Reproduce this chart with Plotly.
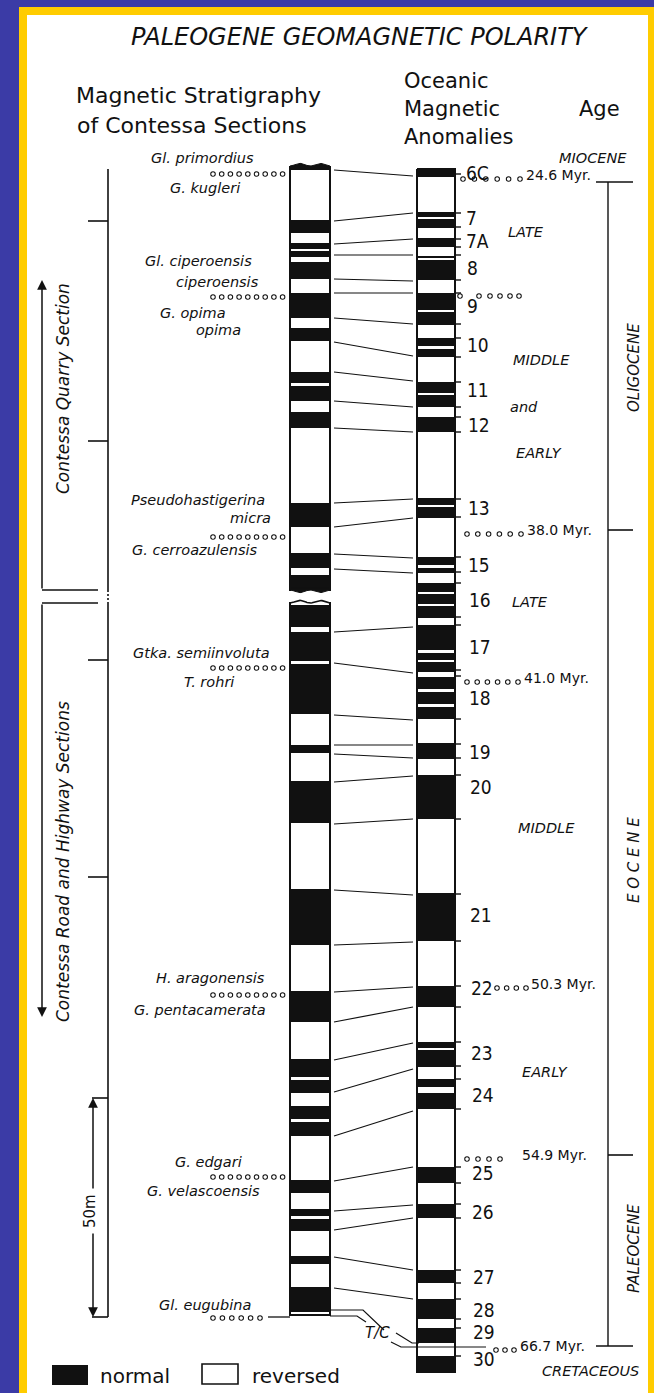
import numpy as np
import plotly.graph_objects as go

W, H = 654, 1393
INK = "#111111"
BLUE = "#3b3ba6"
YELLOW = "#ffcc00"
SANS = "DejaVu Sans"
COND = "DejaVu Sans Condensed, DejaVu Sans"

# ---------------- data (depth positions, downward) ----------------
contessa_normal_top = [220, 243, 251, 262, 293, 328, 372, 386, 412, 503, 553, 575,
                       605, 632, 664, 745, 781, 889, 991, 1059, 1080, 1106, 1122,
                       1180, 1209, 1219, 1256, 1287]
contessa_normal_base = [233, 249, 257, 279, 318, 341, 383, 401, 428, 527, 568, 590,
                        627, 661, 714, 753, 823, 945, 1022, 1077, 1093, 1119, 1136,
                        1193, 1216, 1231, 1264, 1312]

ocean_normal_top = [170, 212, 219, 238, 256, 260, 293, 312, 338, 349, 382, 395, 417,
                    498, 507, 557, 568, 583, 594, 606, 625, 653, 662, 677, 692, 707,
                    743, 775, 893, 986, 1042, 1050, 1079, 1093, 1167, 1204, 1270,
                    1299, 1328, 1356]
ocean_normal_base = [177, 217, 228, 247, 258, 280, 310, 325, 346, 357, 393, 407, 432,
                     505, 518, 565, 573, 592, 604, 618, 650, 660, 672, 689, 704, 719,
                     759, 819, 941, 1007, 1048, 1067, 1087, 1109, 1183, 1218, 1283,
                     1319, 1343, 1372]

tie_contessa = [170, 221, 244, 255, 279, 293, 318, 342, 372, 401, 428, 503, 527, 554,
                569, 632, 663, 715, 745, 754, 782, 824, 890, 945, 992, 1022, 1060,
                1092, 1136, 1181, 1211, 1230, 1257, 1288]
tie_ocean = [176, 213, 239, 255, 281, 293, 324, 356, 381, 407, 432, 499, 518, 558,
             573, 627, 673, 720, 745, 758, 776, 819, 895, 942, 987, 1007, 1043, 1069,
             1111, 1167, 1205, 1218, 1270, 1299]

anomaly_names = ["6C", "7", "7A", "8", "9", "10", "11", "12", "13", "15", "16", "17",
                 "18", "19", "20", "21", "22", "23", "24", "25", "26", "27", "28", "29", "30"]
anomaly_label_y = [173, 218, 241, 268, 306, 345, 390, 425, 508, 565, 600, 647, 698,
                   752, 787, 915, 988, 1053, 1095, 1173, 1212, 1277, 1310, 1332, 1359]
anomaly_tick_y = [174, 213, 227, 239, 247, 255, 280, 293, 324, 338, 357, 382, 407, 417,
                  432, 499, 517, 557, 572, 583, 617, 625, 670, 676, 719, 744, 758, 775,
                  819, 894, 941, 986, 1007, 1042, 1066, 1079, 1109, 1167, 1183, 1204,
                  1218, 1270, 1283, 1299, 1319, 1328, 1356]

age_names = ["24.6 Myr.", "38.0 Myr.", "41.0 Myr.", "50.3 Myr.", "54.9 Myr.", "66.7 Myr."]
age_y = [176, 531, 679, 985, 1156, 1347]
age_text_x = [524, 525, 522, 529, 520, 518]
age_dots_from = [463, 467, 467, 497, 467, 496]
age_dots_to = [520, 521, 518, 526, 500, 514]

epoch_boundary_y = [182, 530, 1155, 1346]
epoch_tick_both = [True, False, False, True]
epoch_names = ["OLIGOCENE", "E O C E N E", "PALEOCENE"]
epoch_label_y = [368, 860, 1249]
subepoch_names = ["MIOCENE", "LATE", "MIDDLE", "and", "EARLY", "LATE", "MIDDLE",
                  "EARLY", "CRETACEOUS"]
subepoch_x = [593, 526, 541, 524, 539, 530, 546, 545, 590]
subepoch_y = [158, 232, 360, 407, 453, 602, 828, 1072, 1371]

biozone_names = ["Gl. primordius", "G. kugleri", "Gl. ciperoensis", "ciperoensis",
                 "G. opima", "opima", "Pseudohastigerina", "micra", "G. cerroazulensis",
                 "Gtka. semiinvoluta", "T. rohri", "H. aragonensis", "G. pentacamerata",
                 "G. edgari", "G. velascoensis", "Gl. eugubina"]
biozone_x = [202, 205, 198, 217, 193, 218, 198, 250, 195, 201, 209, 210, 200, 208, 203, 205]
biozone_y = [158, 188, 261, 282, 313, 330, 500, 518, 550, 653, 682, 978, 1010, 1162,
             1191, 1305]
biozone_boundary_y = [174, 297, 537, 668, 995, 1177, 1318]
biozone_dot_count = [9, 9, 9, 9, 9, 9, 6]

section_names = ["Contessa Quarry Section", "Contessa Road and Highway Sections"]
section_top = [169, 603]
section_base = [590, 1317]
section_label_y = [389, 862]
section_ticks = [221, 441, 660, 877]
scale_top, scale_base = 1098, 1317   # 50 m

# ---------------- layout constants ----------------
L0, L1 = 290, 330      # Contessa column
R0, R1 = 417, 455      # oceanic column
SEC_X = 108            # section scale line

fig = go.Figure()


def bars(tops, bases, x0, x1):
    return go.Bar(x=[(x0 + x1) / 2] * len(tops),
                  y=[b - t for t, b in zip(tops, bases)],
                  base=tops, width=x1 - x0,
                  marker=dict(color=INK, line=dict(width=0)),
                  hoverinfo="skip", showlegend=False)


fig.add_trace(bars(contessa_normal_top, contessa_normal_base, L0, L1))
fig.add_trace(bars(ocean_normal_top, ocean_normal_base, R0, R1))


def line(xs, ys, w=1.3, dash=None):
    fig.add_trace(go.Scatter(x=xs, y=ys, mode="lines",
                             line=dict(color=INK, width=w, dash=dash),
                             hoverinfo="skip", showlegend=False))


def poly(xs, ys):
    fig.add_trace(go.Scatter(x=xs, y=ys, mode="lines", fill="toself",
                             fillcolor=INK, line=dict(color=INK, width=1),
                             hoverinfo="skip", showlegend=False))


# wavy caps of the Contessa column
xw = np.linspace(L0, L1, 41)
bump = 2.6 * np.sin(np.pi * (xw - L0) / 20) ** 2
poly(list(xw) + [L1, L0], list(166 - bump) + [169.5, 169.5])
poly(list(xw) + [L1, L0], list(590 + bump) + [588, 588])
line(list(xw), list(603 - bump), w=1.6)

# column outlines
line([L0, L0, None, L1, L1], [166, 591, None, 166, 591], w=2)
line([L0, L0, L1, L1, None, L0, L0], [602, 1315, 1315, 602, None, 602, 602], w=2)
line([R0, R0, R1, R1, R0], [169, 1372, 1372, 169, 169], w=2)

# correlation (tie) lines
tx, ty = [], []
for a, b in zip(tie_contessa, tie_ocean):
    tx += [L1 + 4, R0 - 4, None]
    ty += [a, b, None]
line(tx, ty, w=1.2)

# T/C boundary lines
line([L1, 363, 384, None, 396, 412, R0 + 2],
     [1310, 1310, 1330, None, 1333, 1343, 1343], w=1.2)
line([L1, 357, 366, None, 391, 401, 486],
     [1316, 1316, 1322, None, 1342, 1347, 1347], w=1.2)

# anomaly ticks
kx, ky = [], []
for y in anomaly_tick_y:
    kx += [R1, R1 + 6, None]
    ky += [y, y, None]
line(kx, ky, w=1.4)

# dotted rows (open circles)
dx, dy = [], []
for y, n in zip(biozone_boundary_y, biozone_dot_count):
    x0 = 213
    step = 8.7 if n == 9 else 9.4
    dx += [x0 + i * step for i in range(n)]
    dy += [y] * n
for y, a, b in zip(age_y, age_dots_from, age_dots_to):
    n = int(round((b - a) / 10.5)) + 1
    dx += list(np.linspace(a, b, n))
    dy += [y + 3] * n
dx += [460, 479, 490, 500, 510, 519]
dy += [296] * 6
fig.add_trace(go.Scatter(x=dx, y=dy, mode="markers",
                         marker=dict(symbol="circle-open", size=4.5, color=INK,
                                     line=dict(width=1.1, color=INK)),
                         hoverinfo="skip", showlegend=False))
line([268, L0], [1317, 1317], w=1.3)

# section scale on the left
line([SEC_X, SEC_X], [section_top[0], section_base[0]], w=1.6)
line([SEC_X, SEC_X], [section_base[0], section_top[1]], w=1.6, dash="2px,2px")
line([SEC_X, SEC_X], [section_top[1], section_base[1]], w=1.6)
sx, sy = [], []
for y in section_ticks:
    sx += [88, SEC_X, None]
    sy += [y, y, None]
for y in (scale_top, scale_base):
    sx += [92, SEC_X, None]
    sy += [y, y, None]
for y in (section_base[0], section_top[1]):
    sx += [42, 98, None]
    sy += [y, y, None]
line(sx, sy, w=1.6)

# epoch bar
EX = 608
line([EX, EX], [epoch_boundary_y[0], epoch_boundary_y[-1]], w=1.4)
ex, ey = [], []
for y, both in zip(epoch_boundary_y, epoch_tick_both):
    ex += [EX - 12 if both else EX, EX + 25, None]
    ey += [y, y, None]
line(ex, ey, w=1.6)

ann = []


def text(x, y, s, size, italic=False, anchor="center", angle=0, family=SANS):
    ann.append(dict(x=x, y=y, xref="x", yref="y", text=s, showarrow=False,
                    xanchor=anchor, yanchor="middle", textangle=angle,
                    font=dict(family=family, size=size, color=INK,
                              style="italic" if italic else "normal")))


def arrow(x0, y0, x1, y1):
    ann.append(dict(x=x1, y=y1, ax=x0, ay=y0, xref="x", yref="y", axref="x",
                    ayref="y", text="", showarrow=True, arrowhead=2,
                    arrowsize=1.3, arrowwidth=1.5, arrowcolor=INK, standoff=0))


# headers
text(360, 37, "PALEOGENE GEOMAGNETIC POLARITY", 24, italic=True)
text(74, 95, "Magnetic Stratigraphy", 22, anchor="left")
text(75, 125, "of Contessa Sections", 22, anchor="left")
text(402, 81, "Oceanic", 21, anchor="left")
text(402, 109, "Magnetic", 21, anchor="left")
text(402, 137, "Anomalies", 21, anchor="left")
text(577, 109, "Age", 21, anchor="left")

# biozone labels
for s, x, y in zip(biozone_names, biozone_x, biozone_y):
    text(x, y, s, 14.5, italic=True)

# anomaly numbers
for s, y in zip(anomaly_names, anomaly_label_y):
    text(464 + 0.006 * (y - 170), y, s, 19, anchor="left", family=COND)

# age labels
for s, x, y in zip(age_names, age_text_x, age_y):
    text(x, y - 1, s, 14, anchor="left")

# epoch / sub-epoch labels
for s, y in zip(epoch_names, epoch_label_y):
    text(634, y, s, 15, italic=True, angle=-90)
for s, x, y in zip(subepoch_names, subepoch_x, subepoch_y):
    text(x, y, s, 14.5, italic=True)
text(377, 1333, "T/C", 15, italic=True)

# section labels and arrows
text(63, section_label_y[0], section_names[0], 17, italic=True, angle=-90)
text(63, section_label_y[1], section_names[1], 17, italic=True, angle=-90)
arrow(42, section_base[0], 42, 280)
arrow(42, section_top[1], 42, 1017)
arrow(93, 1190, 93, scale_top)
arrow(93, 1232, 93, scale_base)
text(90, 1211, "50m", 15, angle=-90)

# legend
text(98, 1376, "normal", 20, anchor="left")
text(250, 1376, "reversed", 20, anchor="left")

shapes = [
    dict(type="rect", xref="x", yref="y", x0=19, x1=W + 5, y0=7, y1=H + 5,
         fillcolor=YELLOW, line=dict(width=0), layer="below"),
    dict(type="rect", xref="x", yref="y", x0=27, x1=648, y0=15, y1=H + 5,
         fillcolor="white", line=dict(width=0), layer="below"),
    dict(type="rect", xref="x", yref="y", x0=52, x1=88, y0=1365, y1=1385,
         fillcolor=INK, line=dict(width=0)),
    dict(type="rect", xref="x", yref="y", x0=202, x1=238, y0=1364, y1=1384,
         fillcolor="white", line=dict(width=1.6, color=INK)),
]

fig.update_layout(
    width=W, height=H, autosize=False,
    margin=dict(l=0, r=0, t=0, b=0, pad=0),
    paper_bgcolor=BLUE, plot_bgcolor=BLUE,
    barmode="overlay", bargap=0, showlegend=False,
    annotations=ann, shapes=shapes,
    xaxis=dict(range=[0, W], visible=False, fixedrange=True),
    yaxis=dict(range=[H, 0], visible=False, fixedrange=True),
)

fig.write_html("out.html", config={"displayModeBar": False, "staticPlot": True},
               post_script="document.body.style.margin='0';document.body.style.overflow='hidden';")
